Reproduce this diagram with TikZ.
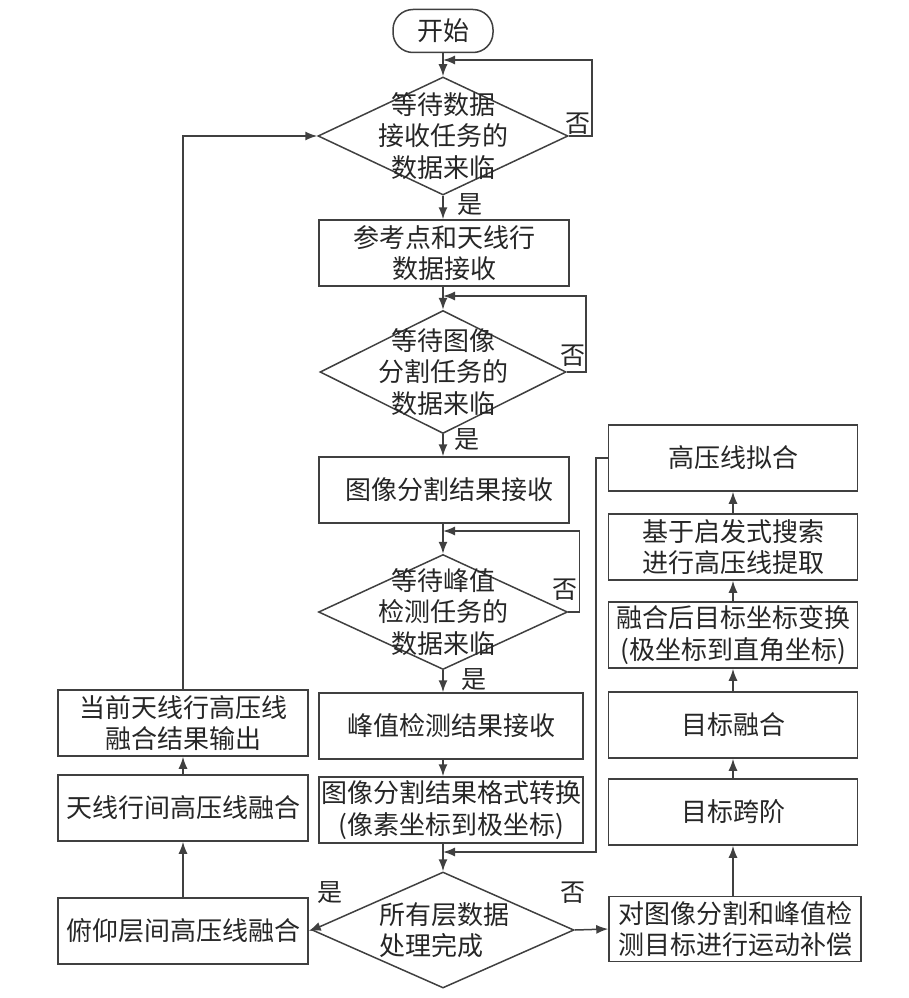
\documentclass[tikz,border=0pt]{standalone}
\usepackage{fontspec}
\newfontfamily\cjk{Noto Sans CJK SC}
\usetikzlibrary{shapes.geometric,arrows.meta,positioning}
\definecolor{ln}{HTML}{404040}
\tikzset{
    box/.style={draw=ln,line width=1.5pt,minimum height=66pt,inner sep=2pt,align=center,font=\cjk\fontsize{26}{31.5}\selectfont,text=black!85},
    dec/.style={draw=ln,line width=1.5pt,diamond,inner sep=0pt},
    txt/.style={align=center,font=\cjk\fontsize{26}{31.5}\selectfont,text=black!85,inner sep=0pt},
    lbl/.style={font=\cjk\fontsize{25}{28}\selectfont,text=black!85,inner sep=0pt},
    arr/.style={draw=ln,line width=1.5pt,-{Latex[length=12pt,width=9pt]}},
    lin/.style={draw=ln,line width=1.5pt}
}
\begin{document}
\begin{tikzpicture}[x=1pt,y=-1pt]
            \useasboundingbox (0,0) rectangle (909,998);
            \node[box,rounded corners=20pt,minimum width=100pt,minimum height=43pt] (start) at (443,31) {开始};
            % middle column
            \node[dec,minimum width=250pt,minimum height=118pt] (d1) at (443,136) {};
            \node[txt] (t1) at (443,136) {等待数据\\接收任务的\\数据来临};
            \node[box,minimum width=250pt] (b1) at (444,253) {参考点和天线行\\数据接收};
            \node[dec,minimum width=246pt,minimum height=123pt] (d2) at (443,372) {};
            \node[txt] (t2) at (443,372) {等待图像\\分割任务的\\数据来临};
            \node[box,minimum width=250pt] (b2) at (444,490) {\hspace{10pt}图像分割结果接收};
            \node[dec,minimum width=249pt,minimum height=115pt] (d3) at (443,612) {};
            \node[txt] (t3) at (443,612) {等待峰值\\检测任务的\\数据来临};
            \node[box,minimum width=264pt] (b3) at (451,726) {峰值检测结果接收};
            \node[box,minimum width=264pt] (b4) at (451,810) {图像分割结果格式转换\\(像素坐标到极坐标)};
            \node[dec,minimum width=262pt,minimum height=116pt] (d4) at (443,930) {};
            \node[txt,align=left] (t4) at (444,930) {所有层数据\\处理完成};
            % left column
            \node[box,minimum width=250pt] (l1) at (183,723) {当前天线行高压线\\融合结果输出};
            \node[box,minimum width=250pt] (l2) at (183,808) {天线行间高压线融合};
            \node[box,minimum width=250pt] (l3) at (183,931) {俯仰层间高压线融合};
            % right column
            \node[box,minimum width=249pt] (r1) at (733,458) {高压线拟合};
            \node[box,minimum width=249pt] (r2) at (733,547) {基于启发式搜索\\进行高压线提取};
            \node[box,minimum width=249pt] (r3) at (733,635) {融合后目标坐标变换\\(极坐标到直角坐标)};
            \node[box,minimum width=249pt] (r4) at (733,725) {目标融合};
            \node[box,minimum width=249pt] (r5) at (733,812) {目标跨阶};
            \node[box,minimum width=252pt,minimum height=65pt,inner sep=0pt] (r6) at (735,929) {对图像分割和峰值检\\测目标进行运动补偿};
            % labels
            \node[lbl] (n1) at (578,124) {否};
            \node[lbl] (y1) at (470,205) {是};
            \node[lbl] (n2) at (573,356) {否};
            \node[lbl] (y2) at (467,440) {是};
            \node[lbl] (n3) at (565,590) {否};
            \node[lbl] (y3) at (474,680) {是};
            \node[lbl] (y4) at (330,893) {是};
            \node[lbl] (n4) at (573,893) {否};
            % junctions
            \coordinate (j1) at (443,60);
            \coordinate (j2) at (443,296);
            \coordinate (j3) at (443,531);
            \coordinate (j4) at (443,852);
            % connectors
            \draw[arr] (start) -- (d1);
            \draw[arr] (d1) -- (d1.south |- b1.north);
            \draw[arr] (b1.south -| d2) -- (d2);
            \draw[arr] (d2) -- (d2.south |- b2.north);
            \draw[arr] (b2.south -| d3) -- (d3);
            \draw[arr] (d3) -- (d3.south |- b3.north);
            \draw[arr] (b3.south -| d3) -- (b4.north -| d3);
            \draw[arr] (b4.south -| d4) -- (d4);
            \draw[arr] (d1.east) -- ++(23,0) |- (j1);
            \draw[arr] (d2.east) -- ++(19,0) |- (j2);
            \draw[arr] (d3.east) -- ++(11,0) |- (j3);
            \draw[arr] (r1.west) -- ++(-12,0) |- (j4);
            \draw[arr] (d4.west) -- (l3.east);
            \draw[arr] (d4.east) -- (r6.west);
            \draw[arr] (l3) -- (l2);
            \draw[arr] (l2) -- (l1);
            \draw[arr] (l1.north) |- (d1.west);
            \draw[arr] (r6.north -| r5) -- (r5);
            \foreach \a/\b in {r5/r4,r4/r3,r3/r2,r2/r1}
            {
                    \draw[arr] (\a) -- (\b);
            }
\end{tikzpicture}
\end{document}
